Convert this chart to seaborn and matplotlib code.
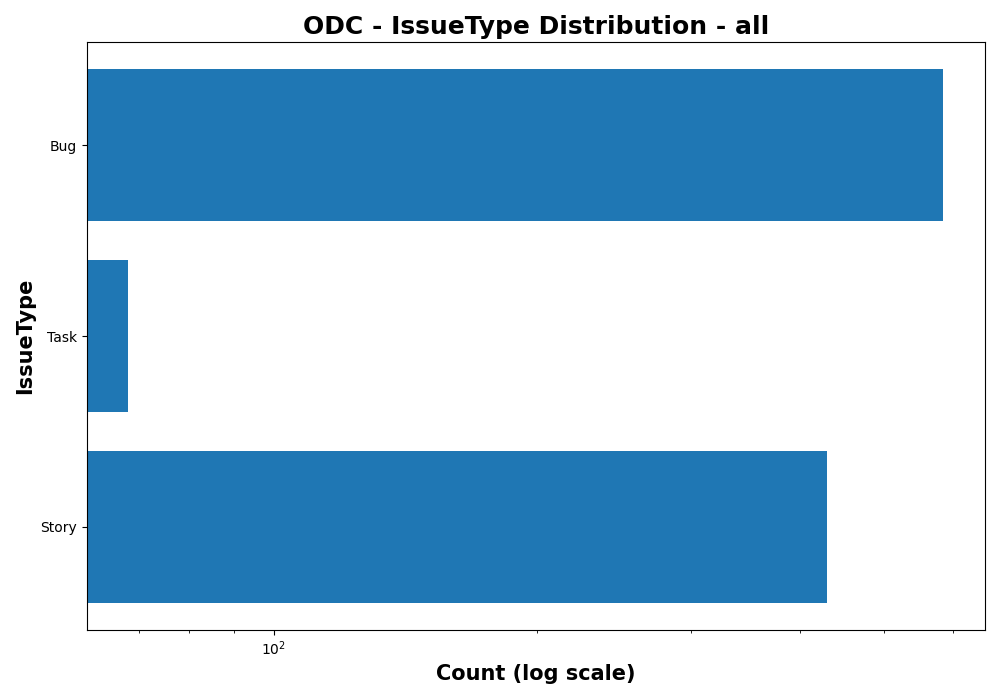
import matplotlib
matplotlib.use("Agg")
import matplotlib.pyplot as plt
import seaborn as sns

issue_types = ["Bug", "Task", "Story"]
counts = [584, 68, 430]

fig, ax = plt.subplots(figsize=(10, 7), dpi=100)
sns.barplot(x=counts, y=issue_types, color="#1f77b4", saturation=1, width=0.8,
            orient="h", ax=ax)
ax.set_xscale("log")
ax.set_xlim(61.1, 652)
ax.set_ylim(2.5 + 0.04, -0.5 - 0.04)
ax.set_title("ODC - IssueType Distribution - all", fontsize=18, fontweight="bold")
ax.set_xlabel("Count (log scale)", fontsize=15, fontweight="bold")
ax.set_ylabel("IssueType", fontsize=15, fontweight="bold")
plt.subplots_adjust(left=0.087, right=0.985, top=0.94, bottom=0.1)
fig.savefig("out.png")
